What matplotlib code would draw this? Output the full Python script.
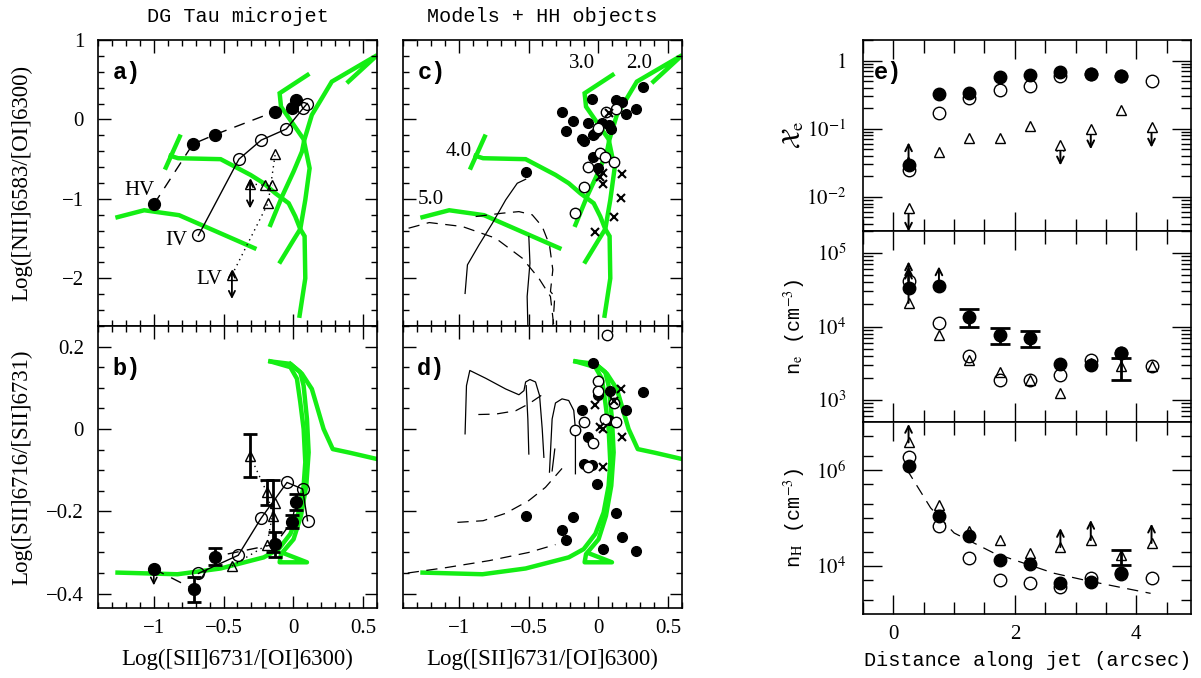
import numpy as np
import matplotlib
matplotlib.use('Agg')
import matplotlib.pyplot as plt
from matplotlib.ticker import MultipleLocator, FixedLocator, FuncFormatter, NullFormatter, FixedFormatter

plt.rcParams['mathtext.fontset'] = 'stix'
plt.rcParams['font.family'] = ['Liberation Serif', 'DejaVu Serif']

# ---------------- data: shock model grids (green) ----------------
g20_x = [-0.164, -0.081, 0.002, 0.062, 0.079, 0.133, 0.205, 0.276, 0.602, 0.395]
g20_y = [-1.327, -0.971, -0.656, -0.405, -0.258, 0.057, 0.267, 0.476, 0.81, 0.476]
g30_x = [0.102, -0.098, -0.088, 0.074, 0.117, 0.086, 0.05, 0.002, -0.093]
g30_y = [0.56, 0.33, 0.161, -0.249, -0.614, -1.013, -1.38, -1.516, -1.79]
g40_x = [-0.879, -0.826, -0.521, -0.307, -0.212, -0.129, -0.033, 0.014, 0.05, 0.081, 0.086, 0.045]
g40_y = [-0.459, -0.488, -0.50, -0.698, -0.803, -0.929, -1.055, -1.22, -1.38, -1.47, -2.0, -2.47]
g40t_x = [-0.814, -0.914]
g40t_y = [-0.216, -0.606]
g50_x = [-1.26, -1.069, -0.819, -0.279]
g50_y = [-1.23, -1.143, -1.205, -1.62]

gb1_x = [-1.26, -0.83, -0.521, -0.212, -0.105, -0.021, 0.038, 0.074, 0.086, 0.074, 0.05, 0.026, -0.021, -0.164]
gb1_y = [-0.349, -0.353, -0.339, -0.312, -0.292, -0.255, -0.203, -0.138, -0.081, 0.0, 0.065, 0.122, 0.15, 0.164]
gb2_x = [-0.164, -0.021, 0.062, 0.133, 0.217, 0.283, 0.407, 0.598]
gb2_y = [0.164, 0.158, 0.134, 0.097, 0.0, -0.049, -0.058, -0.073]
gb3_x = [-0.021, 0.05, 0.074, 0.098, 0.11, 0.093, 0.055, 0.002, -0.088, -0.098, 0.098, -0.069]
gb3_y = [0.158, 0.138, 0.105, 0.024, -0.057, -0.138, -0.211, -0.268, -0.304, -0.324, -0.324, -0.302]

# ---------------- DG Tau microjet (panels a, b) ----------------
hv_a_x = [-1.0, -0.72, -0.56, -0.13, -0.01, 0.02]
hv_a_y = [-1.07, -0.31, -0.19, 0.10, 0.14, 0.25]
iv_a_x = [-0.68, -0.39, -0.23, -0.05, 0.07, 0.10]
iv_a_y = [-1.46, -0.50, -0.26, -0.12, 0.14, 0.20]
lv_a_x = [-0.44, -0.18, -0.13, -0.31, -0.20, -0.15]
lv_a_y = [-1.96, -1.05, -0.44, -0.81, -0.83, -0.83]

hv_b_x = [-1.0, -0.71, -0.56, -0.13, -0.01, 0.02]
hv_b_y = [-0.34, -0.39, -0.31, -0.28, -0.225, -0.177]
hv_b_err = [0.0, 0.03, 0.021, 0.03, 0.015, 0.02]
iv_b_x = [-0.68, -0.395, -0.231, -0.045, 0.067, 0.102]
iv_b_y = [-0.351, -0.307, -0.217, -0.13, -0.146, -0.223]
lv_b_x = [-0.44, -0.19, -0.133, -0.31, -0.19, -0.145]
lv_b_y = [-0.333, -0.282, -0.181, -0.065, -0.154, -0.212]
lv_b_err = [0.0, 0.0, 0.0, 0.053, 0.03, 0.088]

# ---------------- HH objects (panels c, d) ----------------
hhc_f_x = [0.32, -0.045, 0.13, 0.17, 0.27, 0.20, -0.26, -0.18, -0.076, 0.03, 0.075, 0.09, -0.23, -0.01,
           -0.04, -0.03, -0.12, -0.105, -0.04, 0.0, -0.52]
hhc_f_y = [0.41, 0.255, 0.25, 0.22, 0.136, 0.07, 0.10, -0.02, -0.05, -0.05, -0.07, -0.115, -0.15, -0.14,
           -0.2, -0.185, -0.24, -0.27, -0.47, -0.61, -0.66]
hhc_o_x = [0.057, 0.129, -0.005, 0.01, 0.05, 0.114, -0.074, -0.105, -0.169]
hhc_o_y = [0.098, 0.132, -0.111, -0.417, -0.476, -0.53, -0.60, -0.853, -1.18]
hhc_x_x = [0.074, 0.033, 0.014, 0.169, 0.033, 0.162, 0.109, -0.021]
hhc_x_y = [0.086, -0.669, -0.72, -0.686, -0.81, -0.987, -1.23, -1.415]

hhd_f_x = [-0.04, -0.002, 0.086, 0.319, -0.119, 0.2, 0.074, -0.076, -0.105, -0.045, -0.01, 0.126, -0.519,
           -0.179, -0.26, -0.233, 0.171, 0.031, 0.271]
hhd_f_y = [0.161, 0.083, 0.092, 0.089, 0.047, 0.045, 0.022, -0.02, -0.085, -0.088, -0.133, -0.205, -0.212,
           -0.214, -0.245, -0.27, -0.263, -0.292, -0.296]
hhd_o_x = [0.062, 0.0, -0.002, 0.114, 0.045, 0.129, -0.1, -0.167, -0.038, -0.074]
hhd_o_y = [0.229, 0.117, 0.093, 0.063, 0.023, 0.016, 0.018, -0.002, -0.034, -0.092]
hhd_x_x = [0.164, -0.021, 0.11, 0.014, 0.033, 0.169, 0.033]
hhd_x_y = [0.096, 0.059, 0.069, 0.004, -0.001, -0.02, -0.092]

# other models (black)
mc_s1_x = [-0.521, -0.581, -0.664, -0.759, -0.855, -0.938, -0.955]
mc_s1_y = [-0.753, -0.803, -1.013, -1.306, -1.579, -1.83, -2.19]
mc_s2_x = [-0.498, -0.490, -0.51, -0.505]
mc_s2_y = [-1.474, -1.809, -2.229, -2.6]
mc_d1_x = [-1.36, -1.212, -0.974, -0.736, -0.545, -0.426, -0.343, -0.319]
mc_d1_y = [-1.369, -1.298, -1.348, -1.495, -1.746, -2.0, -2.229, -2.6]
mc_d2_x = [-0.879, -0.688, -0.569, -0.474, -0.402, -0.35, -0.326, -0.343, -0.312, -0.326]
mc_d2_y = [-1.222, -1.18, -1.16, -1.20, -1.348, -1.579, -1.893, -2.166, -2.229, -2.6]

md_s1_x = [-0.955, -0.945, -0.921, -0.807, -0.664, -0.569, -0.533, -0.521, -0.490, -0.45, -0.421, -0.402, -0.39]
md_s1_y = [-0.012, 0.105, 0.142, 0.123, 0.097, 0.083, 0.093, 0.114, 0.12, 0.114, 0.081, 0.0, -0.069]
md_s1b_x = [-0.517, -0.505, -0.498]
md_s1b_y = [0.105, 0.024, -0.061]
md_s2_x = [-0.35, -0.331, -0.307, -0.26, -0.212, -0.176, -0.164, -0.164]
md_s2_y = [-0.105, 0.024, 0.063, 0.073, 0.069, 0.045, 0.0, -0.109]
md_s2b_x = [-0.331, -0.312]
md_s2b_y = [-0.102, -0.049]
md_d1_x = [-0.86, -0.736, -0.593, -0.498, -0.402]
md_d1_y = [0.035, 0.036, 0.044, 0.061, 0.083]
md_d2_x = [-1.01, -0.826, -0.664, -0.498, -0.379, -0.26]
md_d2_y = [-0.227, -0.223, -0.205, -0.174, -0.142, -0.096]
md_d3_x = [-1.366, -1.093, -0.783, -0.498, -0.307]
md_d3_y = [-0.35, -0.337, -0.32, -0.3, -0.281]

# ---------------- panel e: along the jet ----------------
dist = [0.25, 0.75, 1.25, 1.75, 2.25, 2.75, 3.25, 3.75, 4.25]
xe_hv = [0.0295, 0.32, 0.33, 0.57, 0.62, 0.69, 0.64, 0.59]
xe_iv = [0.0245, 0.17, 0.28, 0.37, 0.43, 0.59, 0.64, 0.59, 0.50]
xe_lv = [0.0069, 0.045, 0.074, 0.074, 0.109, 0.057, 0.10, 0.185, 0.107]
ne_hv = [33400, 35100, 13500, 7730, 6970, 3090, 2970, 4370]
ne_hv_lo = [0, 0, 9840, 5830, 5320, 0, 0, 0]
ne_hv_hi = [0, 0, 17300, 9500, 8800, 0, 0, 0]
ne_iv = [42000, 11200, 3980, 1850, 1890, 2210, 3530, 4300, 2870]
ne_lv = [20900, 7570, 3530, 2380, 1850, 1245, 3200, 2870, 2870]
nh_hv = [1.21e6, 1.12e5, 41300, 13400, 11100, 4490, 4560, 7270]
nh_iv = [1.9e6, 67000, 14600, 5120, 4490, 3700, 5720, 6730, 5720]
nh_lv = [3.75e6, 1.91e5, 54400, 35200, 18500, 24800, 34600, 17100, 30100]
fit_x = [0.22, 0.614, 1.0, 1.656, 2.644, 3.19, 4.235]
fit_logy = [6.015, 5.21, 4.688, 4.268, 3.849, 3.694, 3.43]

GREEN = '#14ee14'
W, H = 1201, 678
fig = plt.figure(figsize=(W / 100, H / 100), dpi=100)


def add_ax(l, t, r, b):
    return fig.add_axes([l / W, 1 - b / H, (r - l) / W, (b - t) / H])


def numfmt(v, pos):
    if abs(v) < 1e-9:
        return '0'
    return ('%g' % round(v, 3)).replace('-', '\u2212')


def style(ax):
    ax.tick_params(which='both', direction='in', top=True, right=True, labelsize=15)
    ax.tick_params(which='major', length=9, width=1)
    ax.tick_params(which='minor', length=4.5, width=1)
    for s in ax.spines.values():
        s.set_linewidth(1.2)


axa = add_ax(98, 40, 377, 326)
axb = add_ax(98, 326, 377, 608)
axc = add_ax(403, 40, 682, 326)
axd = add_ax(403, 326, 682, 608)

for ax in (axa, axc):
    ax.set_xlim(-1.4, 0.6)
    ax.set_ylim(-2.6, 1.0)
    ax.yaxis.set_major_locator(MultipleLocator(1))
    ax.yaxis.set_minor_locator(MultipleLocator(0.2))
for ax in (axb, axd):
    ax.set_xlim(-1.4, 0.6)
    ax.set_ylim(-0.435, 0.25)
    ax.yaxis.set_major_locator(MultipleLocator(0.2))
    ax.yaxis.set_minor_locator(MultipleLocator(0.05))
for ax in (axa, axb, axc, axd):
    ax.xaxis.set_major_locator(MultipleLocator(0.5))
    ax.xaxis.set_minor_locator(MultipleLocator(0.1))
    ax.xaxis.set_major_formatter(FuncFormatter(numfmt))
    ax.yaxis.set_major_formatter(FuncFormatter(numfmt))
    style(ax)
    ax.tick_params(axis='x', pad=8)
    ax.tick_params(axis='y', pad=10)
axa.tick_params(labelbottom=False)
axc.tick_params(labelbottom=False, labelleft=False)
axd.tick_params(labelleft=False)

# green model grids
for ax in (axa, axc):
    for xs, ys in ((g20_x, g20_y), (g30_x, g30_y), (g40_x, g40_y), (g40t_x, g40t_y), (g50_x, g50_y)):
        ax.plot(xs, ys, color=GREEN, lw=3.2, solid_joinstyle='miter', zorder=1)
for ax in (axb, axd):
    for xs, ys in ((gb1_x, gb1_y), (gb2_x, gb2_y), (gb3_x, gb3_y)):
        ax.plot(xs, ys, color=GREEN, lw=3.2, zorder=1)

ms_c = 8.5
# panel a
axa.plot(hv_a_x, hv_a_y, color='k', lw=1, dashes=(8, 6), zorder=2)
axa.plot(iv_a_x, iv_a_y, color='k', lw=1, zorder=2)
axa.plot(lv_a_x[:3], lv_a_y[:3], color='k', lw=1, dashes=(1, 3), zorder=2)
axa.plot(lv_a_x[3:], lv_a_y[3:], color='k', lw=1, dashes=(1, 3), zorder=2)
axa.plot(hv_a_x, hv_a_y, 'o', ms=ms_c, mfc='k', mec='k', zorder=4)
axa.plot(iv_a_x, iv_a_y, 'o', ms=ms_c, mfc='none', mec='k', mew=1, zorder=4)
axa.plot(lv_a_x, lv_a_y, '^', ms=7, mfc='none', mec='k', mew=1, zorder=4)
for x, y0, y1 in ((lv_a_x[3], -0.75, -1.12), (lv_a_x[0], -1.89, -2.26)):
    axa.annotate('', xy=(x, y1), xytext=(x, y0),
                 arrowprops=dict(arrowstyle='<->', lw=1.3, color='k', shrinkA=0, shrinkB=0, mutation_scale=11))
axa.text(-1.10, -0.89, 'HV', fontsize=15, ha='center', va='center')
axa.text(-0.84, -1.52, 'IV', fontsize=15, ha='center', va='center')
axa.text(-0.605, -2.01, 'LV', fontsize=15, ha='center', va='center')

# panel b
axb.plot(hv_b_x, hv_b_y, color='k', lw=1, dashes=(8, 6), zorder=2)
axb.plot(iv_b_x, iv_b_y, color='k', lw=1, zorder=2)
axb.plot(lv_b_x[:3], lv_b_y[:3], color='k', lw=1, dashes=(1, 3), zorder=2)
axb.plot(lv_b_x[3:], lv_b_y[3:], color='k', lw=1, dashes=(1, 3), zorder=2)
for x, y, e in zip(hv_b_x, hv_b_y, hv_b_err):
    if e > 0:
        axb.errorbar([x], [y], yerr=[e], fmt='none', ecolor='k', elinewidth=2, capsize=5, capthick=2, zorder=3)
for x, y, e in zip(lv_b_x, lv_b_y, lv_b_err):
    if e > 0:
        axb.errorbar([x], [y], yerr=[e], fmt='none', ecolor='k', elinewidth=2, capsize=5, capthick=2, zorder=3)
axb.plot(hv_b_x, hv_b_y, 'o', ms=ms_c, mfc='k', mec='k', zorder=4)
axb.plot(iv_b_x, iv_b_y, 'o', ms=ms_c, mfc='none', mec='k', mew=1, zorder=4)
axb.plot(lv_b_x, lv_b_y, '^', ms=7, mfc='none', mec='k', mew=1, zorder=4)
axb.annotate('', xy=(hv_b_x[0], -0.38), xytext=(hv_b_x[0], hv_b_y[0]),
             arrowprops=dict(arrowstyle='->', lw=1.2, color='k', shrinkA=0, shrinkB=0, mutation_scale=11))

# panel c
axc.plot(mc_s1_x, mc_s1_y, color='k', lw=0.9, zorder=2)
axc.plot(mc_s2_x, mc_s2_y, color='k', lw=0.9, zorder=2)
axc.plot(mc_d1_x, mc_d1_y, color='k', lw=0.9, dashes=(9, 6), zorder=2)
axc.plot(mc_d2_x, mc_d2_y, color='k', lw=0.9, dashes=(9, 6), zorder=2)
axc.plot(hhc_f_x, hhc_f_y, 'o', ms=7, mfc='k', mec='k', zorder=4)
axc.plot(hhc_o_x, hhc_o_y, 'o', ms=7.5, mfc='white', mec='k', mew=1, zorder=4)
axc.plot(hhc_x_x, hhc_x_y, 'x', ms=5.5, mec='k', mew=1.5, zorder=5)
axc.text(-0.117, 0.707, '3.0', fontsize=15, ha='center', va='center')
axc.text(0.295, 0.707, '2.0', fontsize=15, ha='center', va='center')
axc.text(-0.998, -0.405, '4.0', fontsize=15, ha='center', va='center')
axc.text(-1.2, -1.013, '5.0', fontsize=15, ha='center', va='center')

# panel d
for xs, ys in ((md_s1_x, md_s1_y), (md_s1b_x, md_s1b_y), (md_s2_x, md_s2_y), (md_s2b_x, md_s2b_y)):
    axd.plot(xs, ys, color='k', lw=0.9, zorder=2)
for xs, ys in ((md_d1_x, md_d1_y), (md_d2_x, md_d2_y), (md_d3_x, md_d3_y)):
    axd.plot(xs, ys, color='k', lw=0.9, dashes=(9, 6), zorder=2)
axd.plot(hhd_f_x, hhd_f_y, 'o', ms=7, mfc='k', mec='k', zorder=4)
axd.plot(hhd_o_x, hhd_o_y, 'o', ms=7.5, mfc='white', mec='k', mew=1, zorder=4, clip_on=False)
axd.plot(hhd_x_x, hhd_x_y, 'x', ms=5.5, mec='k', mew=1.5, zorder=5)

for ax, lab, yy in ((axa, 'a)', 0.886), (axb, 'b)', 0.85), (axc, 'c)', 0.886), (axd, 'd)', 0.85)):
    ax.text(0.102, yy, lab, transform=ax.transAxes, fontsize=17, fontweight='bold',
            family='Liberation Mono', ha='center', va='center')

# ---------------- panel e ----------------
axe1 = add_ax(863, 40, 1191, 231)
axe2 = add_ax(863, 231, 1191, 422)
axe3 = add_ax(863, 422, 1191, 614)
for ax in (axe1, axe2, axe3):
    ax.set_yscale('log')
    ax.set_xlim(-0.5, 4.9)
    ax.xaxis.set_major_locator(MultipleLocator(2))
    ax.xaxis.set_minor_locator(MultipleLocator(0.5))
    style(ax)
    ax.tick_params(which='major', length=14)
    ax.tick_params(which='minor', length=7)
    ax.tick_params(axis='x', which='minor', length=9)
    ax.tick_params(axis='x', pad=8)
    ax.tick_params(axis='y', pad=12, labelsize=15)
axe1.tick_params(labelbottom=False)
axe2.tick_params(labelbottom=False)
axe3.xaxis.set_major_formatter(FuncFormatter(numfmt))

axe1.set_ylim(10 ** -2.5, 2)
axe1.yaxis.set_major_locator(FixedLocator([1e-2, 1e-1, 1]))
axe1.yaxis.set_major_formatter(FixedFormatter(['$10^{-2}$', '$10^{-1}$', '$1$']))
axe1.yaxis.set_minor_locator(FixedLocator([m * 10.0 ** k for k in (-3, -2, -1, 0) for m in range(2, 10)]))
axe1.yaxis.set_minor_formatter(NullFormatter())

axe2.set_ylim(500, 2e5)
axe2.yaxis.set_major_locator(FixedLocator([1e3, 1e4, 1e5]))
axe2.yaxis.set_major_formatter(FixedFormatter(['$10^{3}$', '$10^{4}$', '$10^{5}$']))
axe2.yaxis.set_minor_locator(FixedLocator([m * 10.0 ** k for k in (2, 3, 4, 5) for m in range(2, 10)]))
axe2.yaxis.set_minor_formatter(NullFormatter())

axe3.set_ylim(1e3, 1e7)
axe3.yaxis.set_major_locator(FixedLocator([1e4, 1e6]))
axe3.yaxis.set_major_formatter(FixedFormatter(['$10^{4}$', '$10^{6}$']))
axe3.yaxis.set_minor_locator(FixedLocator([2e3, 5e3, 2e4, 5e4, 1e5, 2e5, 5e5, 2e6, 5e6]))
axe3.yaxis.set_minor_formatter(NullFormatter())


def arrow(ax, x, y0, y1, style='->'):
    ax.annotate('', xy=(x, y1), xytext=(x, y0), annotation_clip=False,
                arrowprops=dict(arrowstyle=style, lw=1.4, color='k', shrinkA=0, shrinkB=0, mutation_scale=12))


mse = 9
# top: ionisation fraction
axe1.plot(dist, xe_iv, 'o', ms=mse, mfc='white', mec='k', mew=1, zorder=3)
axe1.plot(dist[:8], xe_hv, 'o', ms=mse, mfc='k', mec='k', zorder=4)
axe1.plot(dist, xe_lv, '^', ms=6.5, mfc='white', mec='k', mew=1, zorder=4, clip_on=False)
arrow(axe1, dist[0], xe_hv[0], 0.063)
arrow(axe1, dist[0], xe_iv[0], 0.040)
for i, bot in ((0, 0.0031), (5, 0.029), (6, 0.05), (8, 0.053)):
    arrow(axe1, dist[i], xe_lv[i] * 1.12, bot, '<->')

# middle: electron density
lo = [h - l for h, l in zip(ne_hv, ne_hv_lo)]
hi = [u - h for h, u in zip(ne_hv, ne_hv_hi)]
for i in (2, 3, 4):
    axe2.errorbar([dist[i]], [ne_hv[i]], yerr=[[lo[i]], [hi[i]]], fmt='none', ecolor='k',
                  elinewidth=2, capsize=7, capthick=2, zorder=3)
axe2.errorbar([dist[7]], [ne_lv[7]], yerr=[[ne_lv[7] - 1890], [3730 - ne_lv[7]]], fmt='none', ecolor='k',
              elinewidth=2, capsize=7, capthick=2, zorder=3)
axe2.plot(dist, ne_iv, 'o', ms=mse, mfc='white', mec='k', mew=1, zorder=3)
axe2.plot(dist[:8], ne_hv, 'o', ms=mse, mfc='k', mec='k', zorder=4)
axe2.plot(dist, ne_lv, '^', ms=6.5, mfc='none', mec='k', mew=1, zorder=5)
arrow(axe2, dist[0], ne_hv[0], 77000)
arrow(axe2, dist[0], ne_iv[0], 65800)
arrow(axe2, dist[0], ne_lv[0], 59300)
arrow(axe2, dist[1], ne_hv[1], 65800)

# bottom: hydrogen density
axe3.plot(fit_x, [10 ** v for v in fit_logy], color='k', lw=0.9, dashes=(9, 6), zorder=2)
axe3.errorbar([dist[7]], [nh_lv[7]], yerr=[[nh_lv[7] - 10500], [21800 - nh_lv[7]]], fmt='none', ecolor='k',
              elinewidth=2, capsize=7, capthick=2, zorder=3)
axe3.plot(dist, nh_iv, 'o', ms=mse, mfc='white', mec='k', mew=1, zorder=3)
axe3.plot(dist[:8], nh_hv, 'o', ms=mse, mfc='k', mec='k', zorder=4)
axe3.plot(dist, nh_lv, '^', ms=6.5, mfc='none', mec='k', mew=1, zorder=5)
for i, top in ((0, 9.1e6), (5, 61700), (6, 91000), (8, 76000)):
    arrow(axe3, dist[i], nh_lv[i], top)

axe1.text(0.076, 0.83, 'e)', transform=axe1.transAxes, fontsize=17, fontweight='bold',
          family='Liberation Mono', ha='center', va='center')

# ---------------- labels ----------------
fig.text(237.5 / W, 1 - 16 / H, 'DG Tau microjet', family='Liberation Mono', fontsize=14.5, ha='center', va='center')
fig.text(542.5 / W, 1 - 16 / H, 'Models + HH objects', family='Liberation Mono', fontsize=14.5, ha='center', va='center')
fig.text(22 / W, 1 - 183 / H, 'Log([NII]6583/[OI]6300)', rotation=90, fontsize=16.5, ha='center', va='center')
fig.text(22 / W, 1 - 467 / H, 'Log([SII]6716/[SII]6731)', rotation=90, fontsize=16.5, ha='center', va='center')
fig.text(237.5 / W, 1 - 659 / H, 'Log([SII]6731/[OI]6300)', fontsize=16.5, ha='center', va='center')
fig.text(542.5 / W, 1 - 659 / H, 'Log([SII]6731/[OI]6300)', fontsize=16.5, ha='center', va='center')
fig.text(1028 / W, 1 - 661 / H, 'Distance along jet (arcsec)', family='Liberation Mono', fontsize=14.5,
         ha='center', va='center')
fig.text(793 / W, 1 - 135 / H, r'$\mathcal{X}_{\rm e}$', rotation=90, fontsize=19, ha='center', va='center')
fig.text(795 / W, 1 - 327 / H, r'n$_{\rm e}$ (cm$^{-3}$)', rotation=90, family='Liberation Mono',
         fontsize=14.5, ha='center', va='center')
fig.text(795 / W, 1 - 518 / H, r'n$_{\rm H}$ (cm$^{-3}$)', rotation=90, family='Liberation Mono',
         fontsize=14.5, ha='center', va='center')

fig.savefig('out.png', dpi=100)
